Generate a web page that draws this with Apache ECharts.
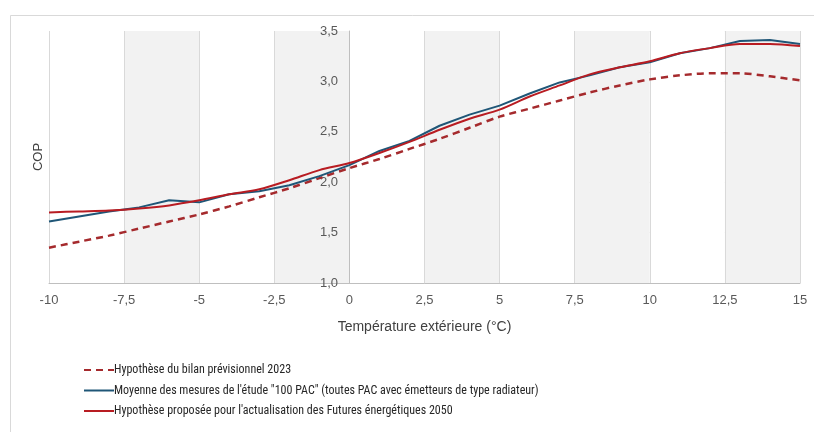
<!DOCTYPE html>
<html>
<head>
<meta charset="utf-8">
<script src="https://cdn.jsdelivr.net/npm/echarts@6/dist/echarts.min.js"></script>
<style>html,body{margin:0;padding:0;background:#fff;}#c{width:814px;height:432px;}</style>
</head>
<body>
<div id="c"></div>
<script>
const temperatures = [-10,-9,-8,-7,-6,-5,-4,-3,-2,-1,0,1,2,3,4,5,6,7,8,9,10,11,12,13,14,15];
const bilan2023 = [1.35,1.41,1.47,1.54,1.61,1.68,1.76,1.85,1.94,2.04,2.14,2.23,2.33,2.43,2.54,2.65,2.73,2.81,2.89,2.96,3.02,3.06,3.08,3.08,3.05,3.01];
const etude100PAC = [1.61,1.66,1.71,1.75,1.82,1.80,1.88,1.91,1.97,2.06,2.17,2.31,2.41,2.56,2.67,2.76,2.88,2.99,3.06,3.14,3.19,3.28,3.33,3.40,3.41,3.37];
const futures2050 = [1.70,1.71,1.72,1.74,1.77,1.82,1.88,1.93,2.02,2.12,2.19,2.29,2.40,2.52,2.63,2.72,2.85,2.96,3.07,3.14,3.20,3.28,3.33,3.37,3.37,3.35];
const seriesNames = [
  'Hypothèse du bilan prévisionnel 2023',
  'Moyenne des mesures de l\'étude "100 PAC" (toutes PAC avec émetteurs de type radiateur)',
  'Hypothèse proposée pour l\'actualisation des Futures énergétiques 2050'
];
const xTitle = 'Température extérieure (°C)';
const yTitle = 'COP';

function pairs(vals){ return temperatures.map((t,i)=>[t, vals[i]]); }
const fmt = v => String(v).replace('.', ',');
const yfmt = v => v.toFixed(1).replace('.', ',');

const chart = echarts.init(document.getElementById('c'));
chart.setOption({
  animation: false,
  backgroundColor: '#fff',
  graphic: [{
    type: 'rect', silent: true, z: -10,
    shape: {x: 10.5, y: 15.5, width: 900, height: 500},
    style: {fill: 'none', stroke: '#d9d9d9', lineWidth: 1}
  }, {
    type: 'text', silent: true, x: 38, y: 157, rotation: Math.PI / 2,
    style: {text: yTitle, font: '13px "Liberation Sans"', fill: '#404040', align: 'center', verticalAlign: 'middle'}
  }],
  grid: {left: 49, right: 14, top: 31, bottom: 149, containLabel: false, outerBoundsMode: 'none'},
  xAxis: {
    type: 'value', min: -10, max: 15, interval: 2.5,
    name: xTitle, nameLocation: 'middle', nameGap: 37,
    nameTextStyle: {fontFamily: 'Liberation Sans', fontSize: 14, color: '#404040'},
    axisLine: {onZero: false, lineStyle: {color: '#bfbfbf', width: 1}},
    axisTick: {show: false},
    axisLabel: {formatter: fmt, margin: 11, fontFamily: 'Liberation Sans', fontSize: 13, color: '#595959'},
    splitLine: {show: true, lineStyle: {color: '#d9d9d9', width: 1}},
    splitArea: {show: true, areaStyle: {color: ['#ffffff', '#f2f2f2']}}
  },
  yAxis: {
    type: 'value', min: 1.0, max: 3.5, interval: 0.5, offset: -300,
    axisLine: {show: true, onZero: false, lineStyle: {color: '#bfbfbf', width: 1}},
    axisTick: {show: false},
    axisLabel: {formatter: yfmt, margin: 11, fontFamily: 'Liberation Sans', fontSize: 13, color: '#595959'},
    splitLine: {show: true, lineStyle: {color: '#d9d9d9', width: 1}}
  },
  legend: {
    orient: 'vertical', left: 78, top: 359, itemWidth: 30, itemHeight: 14, itemGap: 8.5,
    itemStyle: {opacity: 0},
    textStyle: {fontFamily: "'Roboto Condensed', 'Liberation Sans'", fontSize: 12, color: '#262626', padding: [0,0,0,-5]},
    data: seriesNames
  },
  series: [
    {name: seriesNames[0], type: 'line', data: pairs(bilan2023), symbol: 'none', smooth: 0.3,
     lineStyle: {color: '#a52a2d', width: 2.5, type: [7, 5]}, itemStyle: {color: '#a52a2d'}},
    {name: seriesNames[1], type: 'line', data: pairs(etude100PAC), symbol: 'none',
     lineStyle: {color: '#1f5677', width: 2}, itemStyle: {color: '#1f5677'}},
    {name: seriesNames[2], type: 'line', data: pairs(futures2050), symbol: 'none', smooth: 0.3,
     lineStyle: {color: '#b81c22', width: 2}, itemStyle: {color: '#b81c22'}}
  ]
});
</script>
</body>
</html>
